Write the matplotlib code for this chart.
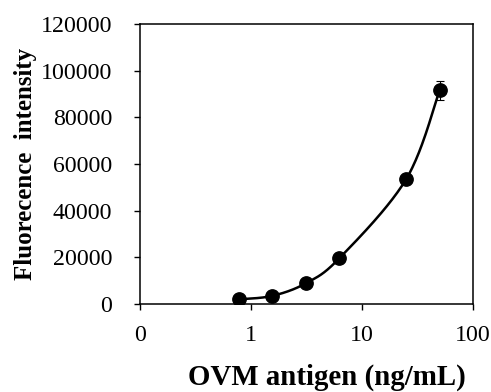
import numpy as np
import matplotlib
matplotlib.use("Agg")
import matplotlib.pyplot as plt
from matplotlib.ticker import FixedLocator, NullLocator

# data
conc = [0.78, 1.56, 3.125, 6.25, 25, 50]
fluor = [2000, 3500, 8900, 19600, 53500, 91500]
err = [0, 0, 0, 0, 0, 4200]
xticks = [0.1, 1, 10, 100]
xticklabels = ["0", "1", "10", "100"]
yticks = [0, 20000, 40000, 60000, 80000, 100000, 120000]

plt.rcParams['font.family'] = ['Liberation Serif', 'DejaVu Serif']


# spreadsheet-style smoothed line: Catmull-Rom bezier over (log10 x, y),
# end points doubled
def smooth(xs, ys, n=40):
    px = np.log10(xs)
    py = np.asarray(ys, float)
    px = np.concatenate([[px[0]], px, [px[-1]]])
    py = np.concatenate([[py[0]], py, [py[-1]]])
    t = np.linspace(0, 1, n)
    outx, outy = [], []
    for i in range(1, len(px) - 2):
        for p, out in ((px, outx), (py, outy)):
            p0, p1, p2, p3 = p[i - 1], p[i], p[i + 1], p[i + 2]
            c1 = p1 + (p2 - p0) / 6
            c2 = p2 - (p3 - p1) / 6
            out.extend((1 - t) ** 3 * p1 + 3 * (1 - t) ** 2 * t * c1
                       + 3 * (1 - t) * t ** 2 * c2 + t ** 3 * p2)
    return 10 ** np.array(outx), np.array(outy)


fig = plt.figure(figsize=(4.91, 3.92), dpi=100)
ax = fig.add_axes([140 / 491, 1 - 304 / 392, 333 / 491, 280 / 392])

sx, sy = smooth(conc, fluor)
ax.plot(sx, sy, color="black", lw=1.8, zorder=2)
ax.errorbar(conc, fluor, yerr=err, fmt="o", color="black", ms=9.6,
            ecolor="black", elinewidth=0.8, capsize=3, capthick=0.8, zorder=3)

ax.set_xscale("log")
ax.set_xlim(0.1, 100)
ax.set_ylim(0, 120000)
ax.xaxis.set_major_locator(FixedLocator(xticks))
ax.xaxis.set_minor_locator(NullLocator())
ax.set_xticklabels(xticklabels)
ax.set_yticks(yticks)
ax.tick_params(direction="out", length=4.5, width=1, labelsize=17.2)
ax.tick_params(axis="y", pad=15.5)
ax.tick_params(axis="x", pad=10.5)
for s in ax.spines.values():
    s.set_linewidth(1.1)

ax.set_xlabel("OVM antigen (ng/mL)", fontsize=20.8, fontweight="bold")
ax.xaxis.set_label_coords(0.5616, -0.212)
ax.set_ylabel("Fluorecence  intensity", fontsize=17.9, fontweight="bold")
ax.yaxis.set_label_coords(-0.309, 0.5)

fig.savefig("out.png", dpi=100)
